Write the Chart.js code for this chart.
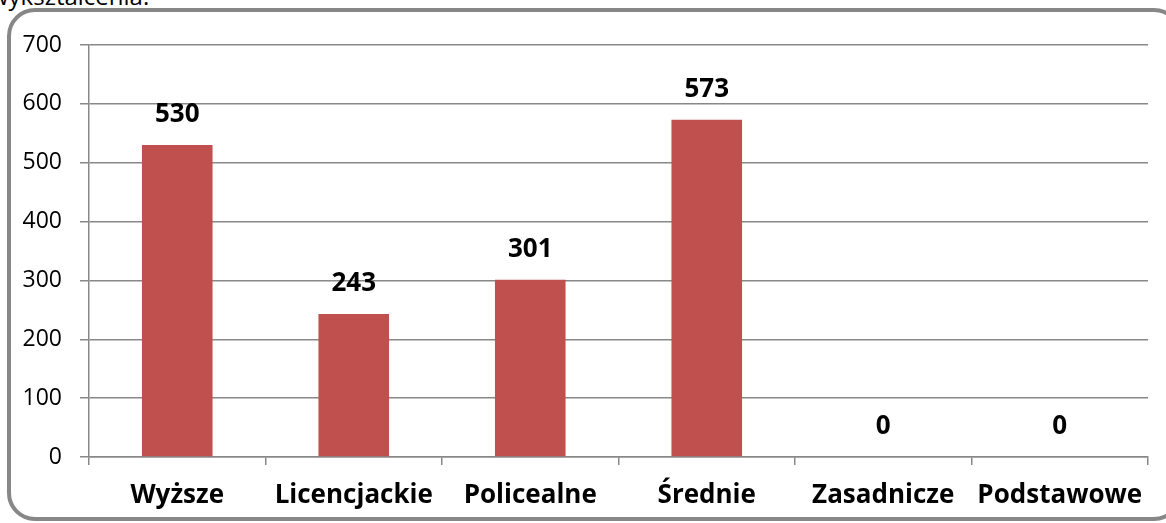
<!DOCTYPE html>
<html>
<head>
<meta charset="utf-8">
<script src="https://cdn.jsdelivr.net/npm/chart.js@4.4.0/dist/chart.umd.min.js"></script>
<style>
  html, body { margin: 0; padding: 0; background: #fff; overflow: hidden; }
  #heading { position: absolute; left: -10px; top: -21px; font: 24px "Open Sans", sans-serif; color: #000; white-space: nowrap; }
  #frame { position: absolute; left: 7px; top: 8px; width: 1175px; height: 513px; box-sizing: border-box;
           border: 4px solid #878787; border-radius: 28px; }
  #wrap { position: absolute; left: 0; top: 0; width: 1166px; height: 523px; }
</style>
</head>
<body>
<div id="heading">wykształcenia:</div>
<div id="frame"></div>
<div id="wrap"><canvas id="chart"></canvas></div>
<script>
const categories = ['Wyższe', 'Licencjackie', 'Policealne', 'Średnie', 'Zasadnicze', 'Podstawowe'];
const values = [530, 243, 301, 573, 0, 0];
const yTicks = [0, 100, 200, 300, 400, 500, 600, 700];

const gridColor = '#888888';

// value labels above the bars
const valueLabels = {
  id: 'valueLabels',
  afterDatasetsDraw(chart) {
    const ctx = chart.ctx;
    const meta = chart.getDatasetMeta(0);
    ctx.save();
    ctx.font = 'bold 26px "Open Sans"';
    ctx.fillStyle = '#000';
    ctx.textAlign = 'center';
    ctx.textBaseline = 'middle';
    meta.data.forEach((bar, i) => {
      ctx.fillText(String(values[i]), bar.x, bar.y - 30);
    });
    ctx.restore();
  }
};

new Chart(document.getElementById('chart'), {
  type: 'bar',
  data: {
    labels: categories,
    datasets: [{
      data: values,
      backgroundColor: '#c0504d',
      barPercentage: 0.4,
      categoryPercentage: 1.0
    }]
  },
  options: {
    responsive: true,
    maintainAspectRatio: false,
    animation: false,
    layout: { padding: { left: 0, top: 45, right: 18, bottom: 0 } },
    plugins: { legend: { display: false }, tooltip: { enabled: false } },
    scales: {
      x: {
        afterFit: (s) => { s.height = 66; },
        grid: { drawOnChartArea: false, drawTicks: true, tickLength: 8, color: gridColor, lineWidth: 1.5 },
        border: { color: gridColor, width: 1.5 },
        ticks: { color: '#000', font: { family: 'Open Sans', size: 26, weight: 'bold' }, padding: 15, maxRotation: 0, autoSkip: false }
      },
      y: {
        min: 0,
        max: 700,
        afterFit: (s) => { s.width = 89; },
        afterBuildTicks: (s) => { s.ticks = yTicks.map(v => ({ value: v })); },
        grid: { color: gridColor, lineWidth: 1.5, tickLength: 9 },
        border: { color: gridColor, width: 1.5 },
        ticks: { color: '#000', font: { family: 'Open Sans', size: 23 }, padding: 18 }
      }
    }
  },
  plugins: [valueLabels]
});
</script>
</body>
</html>
